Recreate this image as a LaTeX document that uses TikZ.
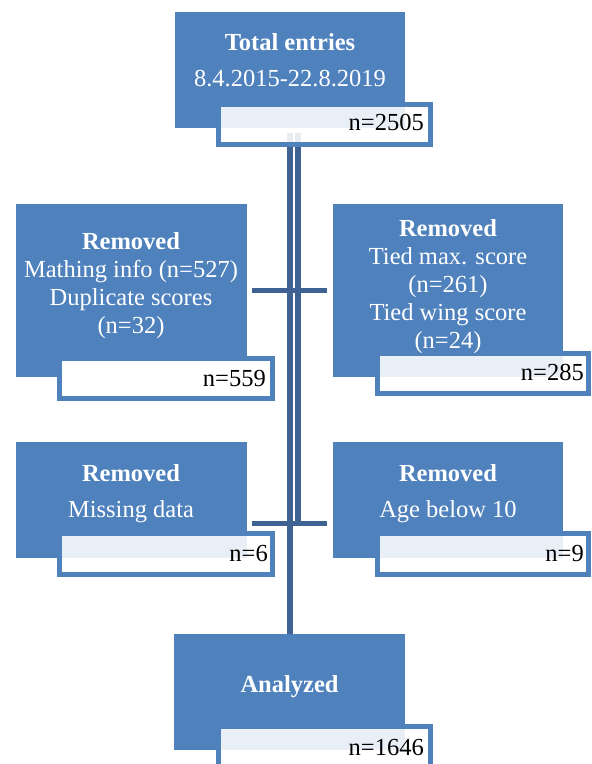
\documentclass[tikz,border=0pt]{standalone}
\usepackage{fontspec}
\setmainfont{Liberation Serif}
\definecolor{boxblue}{RGB}{79,129,189}
\definecolor{lineblue}{RGB}{62,99,146}
\begin{document}
\begin{tikzpicture}[x=1pt,y=-1pt,
  bluebox/.style={rectangle, fill=boxblue, draw=none, inner sep=0pt},
  cntbox/.style={rectangle, draw=boxblue, line width=5pt, fill=white, fill opacity=0.88, draw opacity=1, inner sep=0pt, minimum width=212pt, minimum height=40pt},
  cntsolid/.style={cntbox, fill opacity=1},
  wtxt/.style={text=white, anchor=base, inner sep=0pt, font=\fontsize{24.5}{28}\selectfont},
  htxt/.style={wtxt, font=\fontsize{24.5}{28}\selectfont\bfseries},
  ntxt/.style={text=black, anchor=base east, inner sep=0pt, font=\fontsize{24.5}{28}\selectfont},
  vline/.style={draw=lineblue, line width=6pt},
  hline/.style={draw=lineblue, line width=5pt}]
\useasboundingbox (0,0) rectangle (592,764);

% blue boxes
\node[bluebox, minimum width=230pt, minimum height=116pt] (top) at (290,70) {};
\node[bluebox, minimum width=231pt, minimum height=173pt] (ul) at (131.5,290.5) {};
\node[bluebox, minimum width=230pt, minimum height=173pt] (ur) at (448,290.5) {};
\node[bluebox, minimum width=231pt, minimum height=116pt] (ll) at (131.5,500) {};
\node[bluebox, minimum width=230pt, minimum height=116pt] (lr) at (448,500) {};
\node[bluebox, minimum width=231pt, minimum height=116pt] (an) at (289.5,692) {};

% connectors (behind count boxes)
\coordinate (la) at (290,133);
\coordinate (ra) at (298,133);
\coordinate (rb) at (298,523);
\draw[vline] (la) -- (la |- an.north);
\draw[vline] (ra) -- (rb);
\draw[hline] ([xshift=5pt]ul.east) -- ([xshift=-6pt]ur.west |- ul.east);
\draw[hline] ([xshift=5pt,yshift=-23pt]ll.east) -- ([xshift=-6pt,yshift=-23pt]lr.west |- ll.east);

% redraw blue boxes above connectors where they overlap
\node[bluebox, minimum width=230pt, minimum height=116pt] at (top) {};
\node[bluebox, minimum width=231pt, minimum height=116pt] at (an) {};

% count boxes
\node[cntbox] (c0) at (324.5,124.5) {};
\node[cntsolid, minimum width=213pt] (c1) at (166,378.5) {};
\node[cntbox, minimum width=211pt] (c2) at (483,373.5) {};
\node[cntbox, minimum width=213pt, minimum height=41pt] (c3) at (166,554) {};
\node[cntbox, minimum width=211pt, minimum height=41pt] (c4) at (483,554) {};
\node[cntbox] (c5) at (324.5,746.5) {};

% texts
\node[htxt] (t1) at (290,50) {Total entries};
\node[wtxt] (t2) at (290,86) {8.4.2015-22.8.2019};
\node[ntxt] (n0) at (424,130) {n=2505};

\node[htxt] (u1) at (131,249) {Removed};
\node[wtxt] (u2) at (131,277) {Mathing info (n=527)};
\node[wtxt] (u3) at (131,305) {Duplicate scores};
\node[wtxt] (u4) at (131,333) {(n=32)};
\node[ntxt] (n1) at (266,386) {n=559};

\node[htxt] (r1) at (448,236) {Removed};
\node[wtxt] (r2) at (448,264) {Tied max. score};
\node[wtxt] (r3) at (448,292) {(n=261)};
\node[wtxt] (r4) at (448,320) {Tied wing score};
\node[wtxt] (r5) at (448,348) {(n=24)};
\node[ntxt] (n2) at (584,380) {n=285};

\node[htxt] (l1) at (131,481) {Removed};
\node[wtxt] (l2) at (131,517) {Missing data};
\node[ntxt] (n3) at (268,561) {n=6};

\node[htxt] (m1) at (448,481) {Removed};
\node[wtxt] (m2) at (448,517) {Age below 10};
\node[ntxt] (n4) at (584,561) {n=9};

\node[htxt] (a1) at (289.5,692) {Analyzed};
\node[ntxt] (n5) at (424,755) {n=1646};
\end{tikzpicture}
\end{document}
